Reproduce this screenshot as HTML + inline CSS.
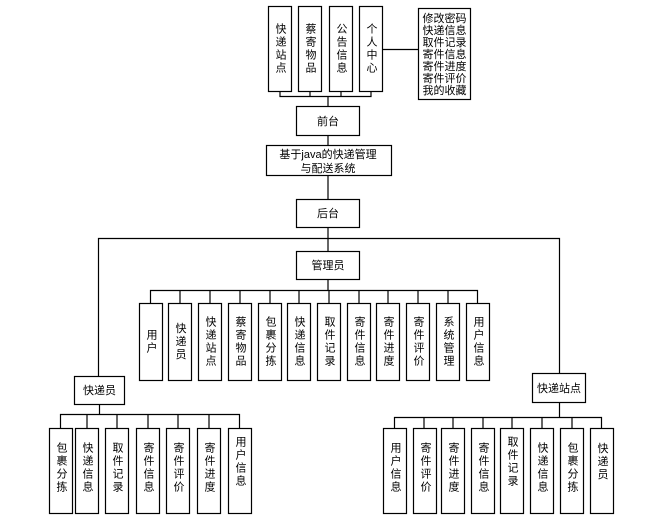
<!DOCTYPE html>
<html><head><meta charset="utf-8"><style>
html,body{margin:0;padding:0;background:#fff;}
svg{display:block;}
text{font-family:"Liberation Sans","Noto Sans CJK SC",sans-serif;font-size:11px;fill:#000;}
</style></head><body>
<svg width="647" height="515" viewBox="0 0 647 515" xmlns="http://www.w3.org/2000/svg">
<g fill="#fff" stroke="#000" stroke-width="1.2">
<rect x="268.5" y="6.5" width="23" height="85"/>
<rect x="298.5" y="6.5" width="23" height="85"/>
<rect x="329.5" y="6.5" width="23" height="85"/>
<rect x="359.5" y="6.5" width="23" height="85"/>
<rect x="418.5" y="8.5" width="52" height="91"/>
<rect x="296.5" y="106.5" width="63" height="29"/>
<rect x="266.5" y="145.5" width="125" height="30"/>
<rect x="296.5" y="199.5" width="63" height="28"/>
<rect x="296.5" y="251.5" width="63" height="28"/>
<rect x="74.5" y="376.5" width="50" height="28"/>
<rect x="532.5" y="373.5" width="53" height="29"/>
</g>
<g fill="none" stroke="#000" stroke-width="1.2">
<path d="M382.5 49.5H418.5"/>
<path d="M280 91.5V96.5H371V91.5M310 91.5V96.5M341 91.5V96.5M328 96.5V106.5"/>
<path d="M328 135.5V145.5M328 175.5V199.5M328 227.5V251.5"/>
<path d="M98.5 376.5V238.5H559.5V373.5"/>
<path d="M328 279.5V290.5"/>
<path d="M150.5 303V290.5H477.5V303"/>
<path d="M180 290.5V303M210 290.5V303M240 290.5V303M270 290.5V303M299 290.5V303M329 290.5V303M359 290.5V303M388 290.5V303M418 290.5V303M448 290.5V303"/>
<path d="M99.5 404.5V414.5M60.5 428V414.5H239.5V428M87 414.5V428M117 414.5V428M148 414.5V428M178 414.5V428M209 414.5V428"/>
<path d="M559.5 402.5V417.5M394.5 428V417.5H601.5V428M424 417.5V428M453 417.5V428M483 417.5V428M512 417.5V428M542 417.5V428M572 417.5V428"/>
</g>
<g fill="#fff" stroke="#000" stroke-width="1.2">
<rect x="139.5" y="303.5" width="23" height="77"/>
<rect x="168.5" y="303.5" width="23" height="77"/>
<rect x="198.5" y="303.5" width="23" height="77"/>
<rect x="228.5" y="303.5" width="23" height="77"/>
<rect x="258.5" y="303.5" width="23" height="77"/>
<rect x="287.5" y="303.5" width="23" height="77"/>
<rect x="317.5" y="303.5" width="23" height="77"/>
<rect x="347.5" y="303.5" width="23" height="77"/>
<rect x="376.5" y="303.5" width="23" height="77"/>
<rect x="406.5" y="303.5" width="23" height="77"/>
<rect x="436.5" y="303.5" width="23" height="77"/>
<rect x="466.5" y="303.5" width="23" height="77"/>
<rect x="49.5" y="428.5" width="23" height="85"/>
<rect x="75.5" y="428.5" width="23" height="85"/>
<rect x="105.5" y="428.5" width="23" height="85"/>
<rect x="136.5" y="428.5" width="23" height="85"/>
<rect x="166.5" y="428.5" width="23" height="85"/>
<rect x="197.5" y="428.5" width="23" height="85"/>
<rect x="228.5" y="428.5" width="23" height="85"/>
<rect x="383.5" y="428.5" width="23" height="85"/>
<rect x="413.5" y="428.5" width="23" height="85"/>
<rect x="441.5" y="428.5" width="23" height="85"/>
<rect x="471.5" y="428.5" width="23" height="85"/>
<rect x="500.5" y="428.5" width="23" height="85"/>
<rect x="530.5" y="428.5" width="23" height="85"/>
<rect x="560.5" y="428.5" width="23" height="85"/>
<rect x="590.5" y="428.5" width="23" height="85"/>
</g>
<g text-anchor="middle">
<text x="328" y="125">前台</text>
<text x="328" y="158" font-size="12">基于java的快递管理</text>
<text x="328" y="172" font-size="12">与配送系统</text>
<text x="328" y="217">后台</text>
<text x="328" y="269">管理员</text>
<text x="99.5" y="394">快递员</text>
<text x="559" y="392">快递站点</text>
</g>
<g text-anchor="middle" font-size="10" style="font-size:10px">
<text x="444.5" y="22">修改密码</text>
<text x="444.5" y="34">快递信息</text>
<text x="444.5" y="46">取件记录</text>
<text x="444.5" y="58">寄件信息</text>
<text x="444.5" y="70">寄件进度</text>
<text x="444.5" y="82">寄件评价</text>
<text x="444.5" y="94">我的收藏</text>
</g>
<g text-anchor="middle" style="writing-mode:vertical-rl;letter-spacing:2px">
<text x="280" y="49">快递站点</text>
<text x="310" y="49">蔡寄物品</text>
<text x="341" y="49">公告信息</text>
<text x="371" y="49">个人中心</text>
<text x="151" y="342">用户</text>
<text x="180" y="342">快递员</text>
<text x="210" y="342">快递站点</text>
<text x="240" y="342">蔡寄物品</text>
<text x="270" y="342">包裹分拣</text>
<text x="299" y="342">快递信息</text>
<text x="329" y="342">取件记录</text>
<text x="359" y="342">寄件信息</text>
<text x="388" y="342">寄件进度</text>
<text x="418" y="342">寄件评价</text>
<text x="448" y="342">系统管理</text>
<text x="478" y="342">用户信息</text>
<text x="61" y="468">包裹分拣</text>
<text x="87" y="468">快递信息</text>
<text x="117" y="468">取件记录</text>
<text x="148" y="468">寄件信息</text>
<text x="178" y="468">寄件评价</text>
<text x="209" y="468">寄件进度</text>
<text x="240" y="462">用户信息</text>
<text x="395" y="468">用户信息</text>
<text x="425" y="468">寄件评价</text>
<text x="453" y="468">寄件进度</text>
<text x="483" y="468">寄件信息</text>
<text x="512" y="462">取件记录</text>
<text x="542" y="468">快递信息</text>
<text x="572" y="468">包裹分拣</text>
<text x="602" y="462">快递员</text>
</g>
</svg>
</body></html>
